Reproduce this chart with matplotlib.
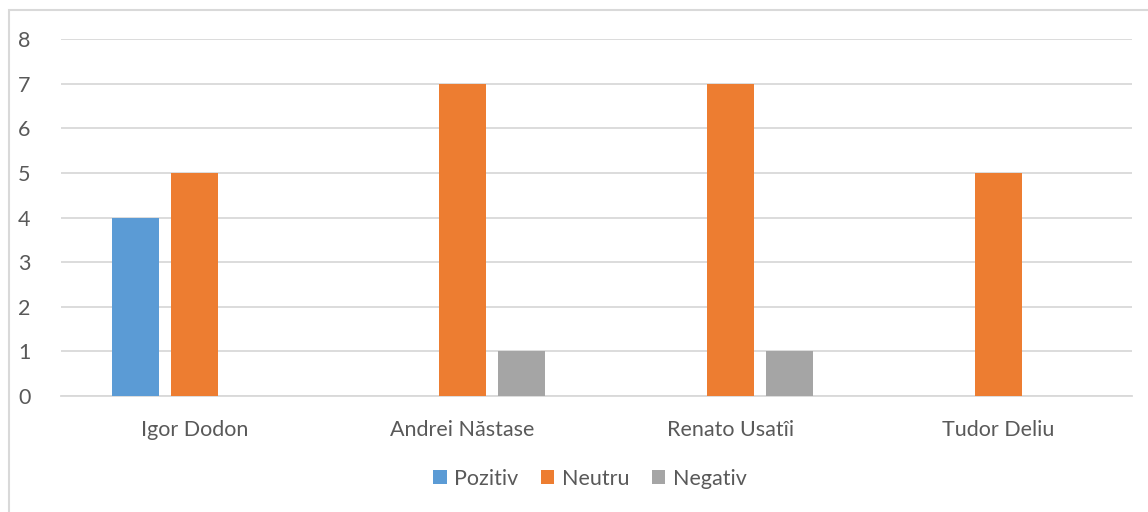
import matplotlib
matplotlib.use("Agg")
import matplotlib.pyplot as plt
import numpy as np
from matplotlib.patches import Rectangle

categories = ["Igor Dodon", "Andrei Năstase", "Renato Usatîi", "Tudor Deliu"]
series_names = ["Pozitiv", "Neutru", "Negativ"]
pozitiv = [4, 0, 0, 0]
neutru = [5, 7, 7, 5]
negativ = [0, 1, 1, 0]
colors = ["#5B9BD5", "#ED7D31", "#A5A5A5"]
yticks = [0, 1, 2, 3, 4, 5, 6, 7, 8]

plt.rcParams['font.family'] = ['Lato', 'DejaVu Sans']
txt = "#595959"

fig = plt.figure(figsize=(11.48, 5.12), dpi=100)
fig.patches.append(Rectangle((8.5/1148, -0.1), 1.2, 1.1 - 9.5/512,
                             transform=fig.transFigure, fill=False,
                             edgecolor="#D9D9D9", linewidth=1.5))
ax = fig.add_axes([61/1148, 1 - 396/512, (1132-61)/1148, (396-39)/512])

x = np.arange(len(categories))
w = 0.1755
step = 0.2204
for i, (vals, name) in enumerate(zip([pozitiv, neutru, negativ], series_names)):
    ax.bar(x + (i - 1) * step, vals, width=w, color=colors[i], label=name, zorder=3)

ax.set_xlim(-0.5, len(categories) - 0.5)
ax.set_ylim(0, 8)
ax.set_yticks(yticks)
ax.set_xticks(x)
ax.set_xticklabels(categories)
ax.yaxis.grid(True, color="#D9D9D9", linewidth=1.3)
ax.set_axisbelow(True)
for s in ["top", "right", "left"]:
    ax.spines[s].set_visible(False)
ax.spines["bottom"].set_color("#D9D9D9")
ax.spines["bottom"].set_linewidth(1.3)
ax.tick_params(axis="both", length=0, labelsize=15.5, colors=txt)
ax.tick_params(axis="y", pad=22)
ax.tick_params(axis="x", pad=17)

leg = fig.legend(loc="center", bbox_to_anchor=(590/1148, 1 - 479/512), ncol=3,
                 frameon=False, fontsize=15.5, handlelength=0.62, handleheight=0.62,
                 handletextpad=0.35, columnspacing=1.05)
for t in leg.get_texts():
    t.set_color(txt)

fig.savefig("out.png", dpi=100)
